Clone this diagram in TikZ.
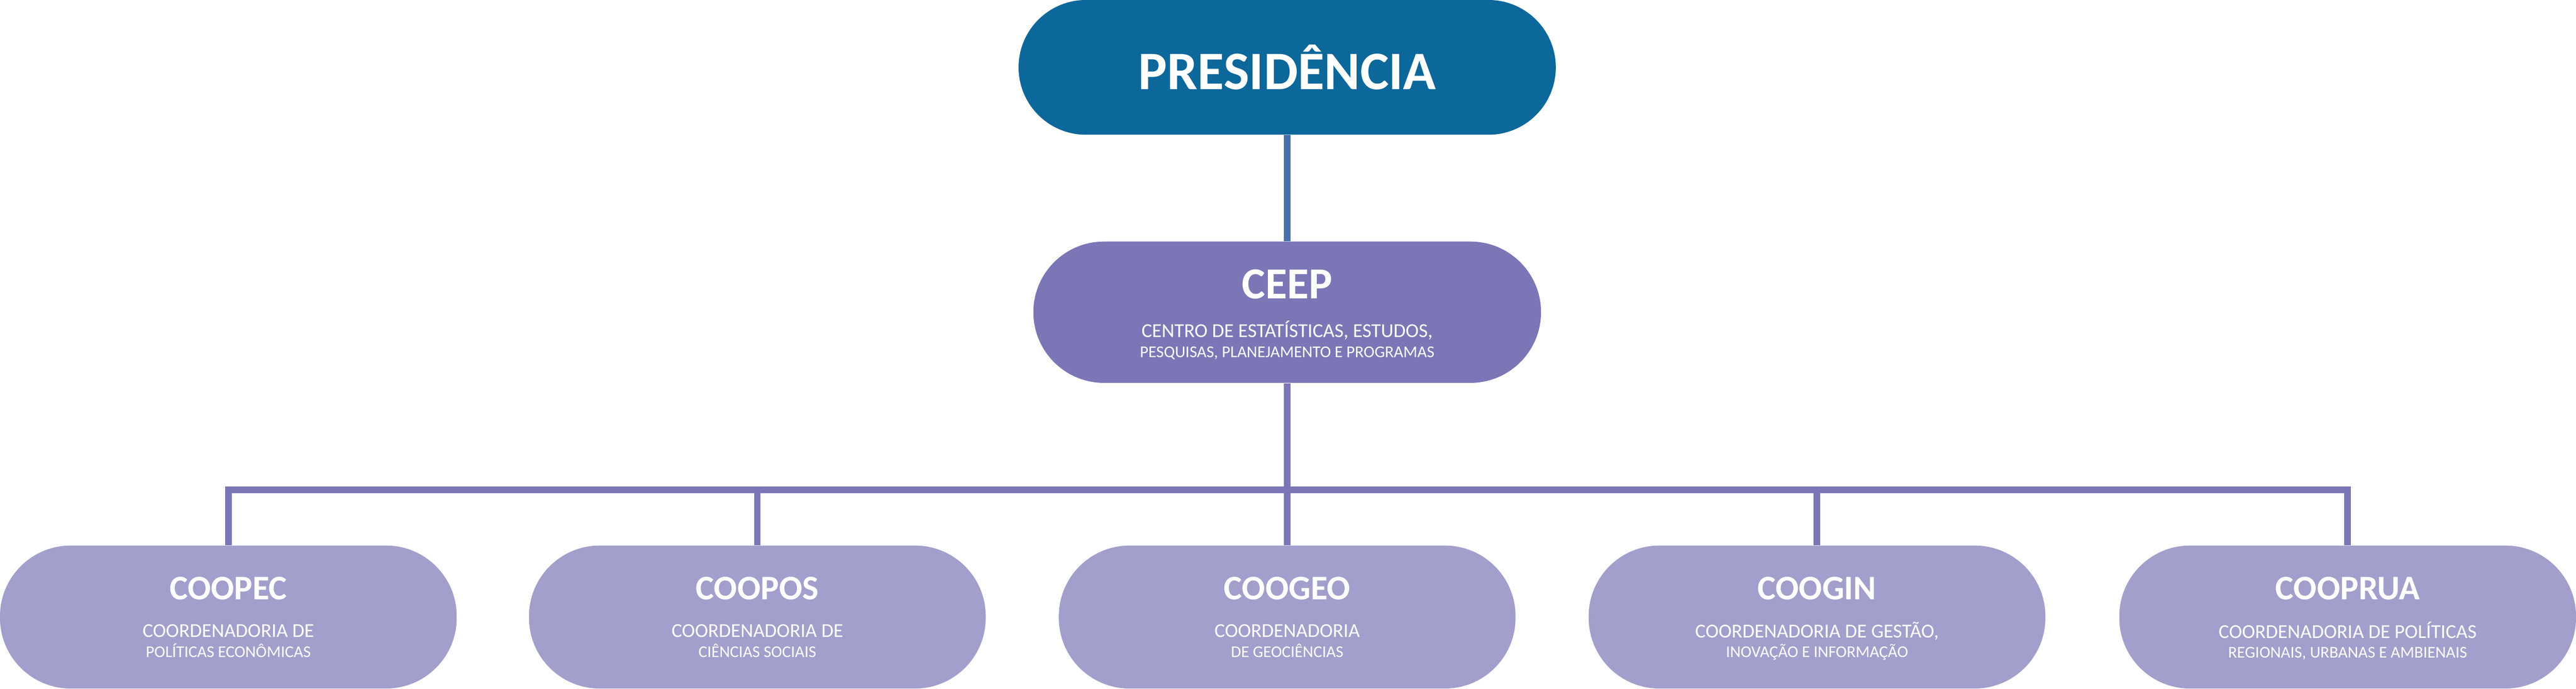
\documentclass[tikz,border=0pt]{standalone}
\usepackage{fontspec}
\setmainfont{Carlito}
\definecolor{pres}{HTML}{0C679B}
\definecolor{ceep}{HTML}{7B76B6}
\definecolor{coo}{HTML}{A29FCC}
\definecolor{lnk}{HTML}{7B76B6}
\begin{document}
\begin{tikzpicture}[x=1pt,y=1pt,
  box/.style={rounded corners=40pt,draw=none,text=white,align=center,inner sep=0pt},
  link/.style={draw=lnk,line width=4pt}]
\useasboundingbox (0,0) rectangle (1568,419);
\node[box,fill=pres,minimum width=327pt,minimum height=82pt,rounded corners=41pt] (pres) at (783.5,378) {\fontsize{33}{36}\selectfont\bfseries PRESIDÊNCIA};
\node[box,fill=ceep,minimum width=309pt,minimum height=86pt,rounded corners=43pt] (ceep) at (783.5,229) {};
\node[text=white,align=center] (ceept) at (783.5,246) {\fontsize{27}{30}\selectfont\bfseries CEEP};
\node[text=white,align=center] (ceeps) at (783.5,212) {\fontsize{12}{16}\selectfont CENTRO DE ESTATÍSTICAS, ESTUDOS,\\PESQUISAS, PLANEJAMENTO E PROGRAMAS};
\draw[draw=ceep!55!pres,line width=4pt] (pres.south) -- (ceep.north);
\coordinate (bus) at (783.5,121);
\draw[link] (ceep.south) -- (bus);
\foreach \n/\x/\t/\s in {a/139/COOPEC/{COORDENADORIA DE\\POLÍTICAS ECONÔMICAS},
  b/461/COOPOS/{COORDENADORIA DE\\CIÊNCIAS SOCIAIS},
  c/783.5/COOGEO/{COORDENADORIA\\DE GEOCIÊNCIAS},
  d/1106/COOGIN/{COORDENADORIA DE GESTÃO,\\INOVAÇÃO E INFORMAÇÃO},
  e/1429/COOPRUA/{COORDENADORIA DE POLÍTICAS\\REGIONAIS, URBANAS E AMBIENAIS}}{
  \node[box,fill=coo,minimum width=278pt,minimum height=87pt,rounded corners=43pt] (\n) at (\x,43.5) {};
  \node[text=white] (\n t) at (\x,61) {\fontsize{21}{24}\selectfont\bfseries \t};
  \node[text=white,align=center] (\n s) at (\x,29) {\fontsize{12}{16}\selectfont \s};
  \draw[link] (\n.north) -- (\x,121);
}
\draw[link,line cap=rect] (a.north |- bus) -- (e.north |- bus);
\end{tikzpicture}
\end{document}
